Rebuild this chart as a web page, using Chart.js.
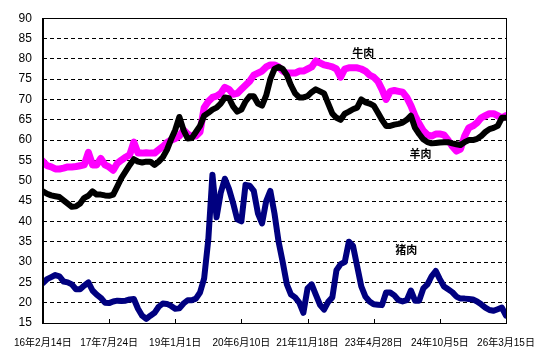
<!DOCTYPE html>
<html>
<head>
<meta charset="utf-8">
<script src="https://cdn.jsdelivr.net/npm/chart.js@4/dist/chart.umd.min.js"></script>
<style>
html,body{margin:0;padding:0;background:#fff;}
canvas{display:block;}
</style>
</head>
<body>
<canvas id="c" width="554" height="360"></canvas>
<script>
// Tick labels on the date axis (one every 16 samples)
const xTickLabels = ['16年2月14日','17年7月24日','19年1月1日','20年6月10日','21年11月18日','23年4月28日','24年10月5日','26年3月15日'];
const samplesPerTick = 16;

// Series values, evenly spaced samples
const beef = [54.8,53.7,53.4,52.9,52.9,53.1,53.4,53.4,53.5,53.7,53.9,57,53.9,53.9,55.5,53.9,53.4,52.6,54.3,55.1,
55.8,56.4,59.5,56.8,56.8,56.9,56.8,56.8,57.6,58.4,59.4,60,60.4,61,62.5,61.5,61,61,62,68,
69.5,70.5,70.8,71.5,73,72.5,71.3,71.5,72.5,73.5,74.5,76,76.5,77,78,78.5,78.5,78,77,76.5,
76.5,76.5,77,77,77.5,78,79.5,79,78.5,78.3,78,77.5,75.5,77.5,77.8,77.8,77.8,77.5,77,76,
75.5,74.5,72.5,70,72,72.2,72,71.8,70.5,68.5,66,64,62.3,61.3,61,61.5,61.5,61.3,60,58.5,
57.3,57.8,61,63,63.5,64.3,65.5,66,66.5,66.5,66,65.5,66];

const mutton = [47.4,46.8,46.4,46.2,46,45.2,44.4,43.6,43.7,44.4,45.8,46.3,47.4,46.6,46.6,46.4,46.3,46.6,48.6,50.7,
52.3,53.9,55.3,54.7,54.5,54.7,54.7,53.9,54.7,55.8,57.6,60.2,62.5,65.7,62.5,60.4,60.5,62,63.5,66,
66.7,67.5,68,69,70.5,70.3,68.3,67,67.5,69.5,70.8,70.8,69,68.5,71,75,77.5,78,77.5,76,
73.5,71.5,70.5,70.5,70.8,71.8,72.5,72,71.5,69,66.5,65.5,65,66.5,67,67.6,68,70,69.3,69,
68.5,66.8,65,63.5,63.5,63.8,64,64.3,65,66,63,61.5,60.2,59.5,59.2,59.3,59.4,59.5,59.5,59.2,
59,58.8,59.5,60,60,60.3,61,62,62.7,63,63.5,65.5,65.5];

const pork = [24.8,25.8,26.3,26.8,26.5,25.2,25,24.5,23.3,23.3,24.2,25,23,22,21.2,20,19.9,20.3,20.5,20.4,
20.5,20.8,20.9,18.5,16.8,16,16.8,17.5,19,19.8,19.7,19.2,18.5,18.6,19.8,20.6,20.6,21,22.5,26,
35.5,51.5,41,47,50.5,48,44.5,40.5,40,49,48.8,47.5,42,39.5,45,47.5,42,35,30,24.5,
22,21.3,20,17.5,23.5,24.5,22,19.5,18.3,20.2,21.3,28,29.5,30,35,34,29,24,21.5,20.3,
19.6,19.5,19.4,22.5,22.5,21.8,20.6,20.3,20.6,23,20.5,20.5,23.5,24.5,26.5,27.8,25.8,24,23.3,22.6,
21.5,21,21,20.9,20.8,20.3,19.6,18.8,18.2,18,18.4,18.8,16.8];

const seriesNames = ['牛肉','羊肉','猪肉'];
// label anchor points in data units [sampleIndex, value]
const labelAnchors = [[77.5, 81.4],[91.3, 56.7],[87.9, 33.1]];

const yMin = 15, yMax = 90, yStep = 5;

const yFont = {family: "'Liberation Sans Narrow','Liberation Sans','Noto Sans CJK JP',sans-serif", size: 12};
const xFont = {family: "'Liberation Sans Narrow','Liberation Sans','Noto Sans CJK JP',sans-serif", size: 10};

const framePlugin = {
  id: 'frame',
  afterDraw(chart) {
    const {ctx, chartArea: a, scales} = chart;
    ctx.save();
    ctx.strokeStyle = '#000';
    ctx.lineWidth = 1;
    ctx.strokeRect(Math.round(a.left) + 0.5, Math.round(a.top) + 0.5, Math.round(a.right - a.left), Math.round(a.bottom - a.top));
    // inside tick marks on the x axis
    const xs = scales.x;
    ctx.beginPath();
    for (let k = 0; k < xTickLabels.length; k++) {
      const px = Math.round(xs.getPixelForValue(k * samplesPerTick)) + 0.5;
      ctx.moveTo(px, a.bottom);
      ctx.lineTo(px, a.bottom - 4);
    }
    ctx.stroke();
    // series name labels
    ctx.fillStyle = '#000';
    ctx.font = "bold 11px 'Noto Sans CJK SC', sans-serif";
    ctx.textAlign = 'center';
    ctx.textBaseline = 'middle';
    seriesNames.forEach((n, k) => {
      const [ix, v] = labelAnchors[k];
      ctx.fillText(n, xs.getPixelForValue(ix), scales.y.getPixelForValue(v));
    });
    ctx.restore();
  }
};

const idx = beef.map((_, i) => i);
const mk = (label, data, color, order, w) => ({
  label, data, borderColor: color, backgroundColor: color,
  borderWidth: w, pointRadius: 0, tension: 0, order,
  borderJoinStyle: 'round', borderCapStyle: 'round', fill: false
});

new Chart(document.getElementById('c'), {
  type: 'line',
  data: {
    labels: idx,
    datasets: [
      mk('猪肉', pork, '#000080', 0, 6),
      mk('羊肉', mutton, '#000000', 1, 6),
      mk('牛肉', beef, '#FF00FF', 2, 7)
    ]
  },
  options: {
    responsive: false,
    animation: false,
    devicePixelRatio: 1,
    layout: {padding: {left: 0, top: 17, right: 48, bottom: 0}},
    plugins: {legend: {display: false}, tooltip: {enabled: false}},
    scales: {
      x: {
        type: 'linear',
        min: 0, max: (xTickLabels.length - 1) * samplesPerTick,
        afterFit(s) { s.height = 37; },
        grid: {display: false, drawTicks: false},
        border: {display: true, color: '#000', width: 1},
        ticks: {
          stepSize: samplesPerTick, autoSkip: false, maxRotation: 0, padding: 14,
          color: '#000', font: xFont,
          callback: (v) => xTickLabels[Math.round(v / samplesPerTick)] ?? ''
        }
      },
      y: {
        min: yMin, max: yMax,
        afterFit(s) { s.width = 36; },
        grid: {
          drawTicks: false,
          color: (c) => (c.tick && (c.tick.value === yMin || c.tick.value === yMax)) ? 'rgba(0,0,0,0)' : '#000',
          lineWidth: 1
        },
        border: {display: true, color: '#000', width: 1, dash: [4, 3]},
        ticks: {stepSize: yStep, padding: 11, color: '#000', font: yFont}
      }
    }
  },
  plugins: [framePlugin]
});
</script>
</body>
</html>
